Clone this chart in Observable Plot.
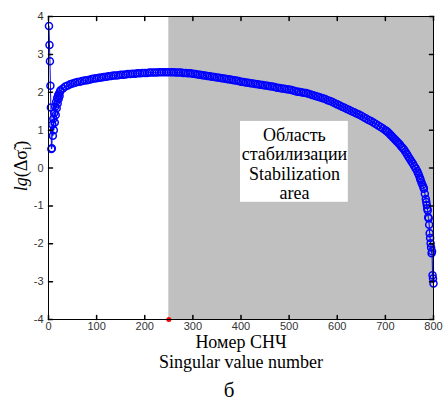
<!DOCTYPE html>
<html>
<head>
<meta charset="utf-8">
<script src="https://cdn.jsdelivr.net/npm/d3@7"></script>
<script src="https://cdn.jsdelivr.net/npm/@observablehq/plot@0.6"></script>
<style>
  html, body { margin: 0; padding: 0; background: #fff; }
</style>
</head>
<body>
<div id="chart"></div>
<script>
// ---- data ----
const startIdx  = [1,2,3,4,5,6,7,8,9,10,11,12,13,14,15,16,17,18,19,20,21,22,23,24];
const startVals = [3.75,3.25,2.82,2.17,1.60,0.50,0.52,1.15,0.85,1.30,1.00,1.45,1.20,1.62,1.40,1.75,1.58,1.85,1.70,1.92,1.82,1.97,1.90,2.02];

const midFirst = 25, midStep = 5;
const midVals = [
  2.05,2.10,2.15,2.18,2.21,2.23,2.25,2.27,2.28,2.30,
  2.31,2.32,2.33,2.35,2.36,2.37,2.38,2.39,2.40,2.41,
  2.42,2.43,2.44,2.44,2.45,2.46,2.46,2.47,2.48,2.48,
  2.49,2.49,2.50,2.50,2.51,2.51,2.51,2.52,2.52,2.52,
  2.52,2.53,2.53,2.53,2.53,2.53,2.53,2.53,2.52,2.52,
  2.52,2.51,2.51,2.50,2.50,2.49,2.48,2.47,2.46,2.45,
  2.44,2.43,2.42,2.41,2.40,2.39,2.38,2.37,2.36,2.35,
  2.34,2.33,2.32,2.31,2.30,2.28,2.27,2.26,2.25,2.24,
  2.23,2.22,2.21,2.20,2.19,2.18,2.17,2.16,2.15,2.14,
  2.12,2.11,2.10,2.09,2.08,2.07,2.06,2.04,2.02,2.01,
  2.00,1.99,1.98,1.96,1.94,1.92,1.90,1.88,1.86,1.84,
  1.82,1.79,1.77,1.74,1.71,1.68,1.65,1.62,1.59,1.56,
  1.53,1.50,1.47,1.44,1.41,1.38,1.34,1.31,1.27,1.24,
  1.20,1.16,1.12,1.08,1.04,1.00
];

const tailIdx  = [703,706,709,712,715,718,721,724,727,730,733,736,739,742,745,748,751,754,757,760,763,766,768,770,772,773,775,777,779,780,782,784,785,786,787,788,789,790,791,792,793,794,795,796,797,798,799,800];
const tailVals = [0.97,0.94,0.90,0.86,0.82,0.78,0.74,0.70,0.66,0.62,0.57,0.53,0.48,0.42,0.36,0.30,0.24,0.18,0.12,0.05,-0.01,-0.08,-0.14,-0.20,-0.27,-0.31,-0.38,-0.44,-0.50,-0.55,-0.68,-0.82,-0.90,-0.98,-1.07,-1.12,-1.30,-1.33,-1.50,-1.72,-1.85,-1.99,-2.10,-2.25,-2.20,-2.83,-2.92,-3.05];

const xTicks = [0,100,200,300,400,500,600,700,800];
const yTicks = [-4,-3,-2,-1,0,1,2,3,4];
const xDomain = [0, 800];
const yDomain = [-4, 4];

const stabStart = 250;          // start of stabilization area
const boxX = [399, 623];        // annotation box (data units)
const boxY = [-0.905, 1.23];
const boxCenter = [511, 0.11];
const boxText = "Область\nстабилизации\nStabilization\narea";

const xLabelRu = "Номер СНЧ";
const xLabelEn = "Singular value number";
const panelLabel = "б";

// ---- build table ----
const data = [];
startIdx.forEach((x, i) => data.push({x, y: startVals[i]}));
midVals.forEach((y, i) => data.push({x: midFirst + i * midStep, y}));
tailIdx.forEach((x, i) => data.push({x, y: tailVals[i]}));

const tickShape = {
  draw(context, l) { context.moveTo(0, 0); context.lineTo(0, -l); }
};

const serif = "Liberation Serif";
const sans = "Liberation Sans";

const plot = Plot.plot({
  width: 443,
  height: 405,
  marginTop: 16,
  marginBottom: 86,
  marginLeft: 48,
  marginRight: 10,
  x: {domain: xDomain},
  y: {domain: yDomain},
  style: {fontFamily: sans, fontSize: "11px", color: "#000", background: "#fff"},
  marks: [
    Plot.rect([{x1: stabStart, x2: xDomain[1], y1: yDomain[0], y2: yDomain[1]}],
      {x1: "x1", x2: "x2", y1: "y1", y2: "y2", fill: "#c0c0c0"}),
    Plot.rect([{x1: boxX[0], x2: boxX[1], y1: boxY[0], y2: boxY[1]}],
      {x1: "x1", x2: "x2", y1: "y1", y2: "y2", fill: "#fff"}),
    Plot.text([boxText], {x: boxCenter[0], y: boxCenter[1], text: d => d,
      fontFamily: serif, fontSize: 18, lineHeight: 1.07, fill: "#000"}),
    Plot.line(data, {x: "x", y: "y", stroke: "#0000ff", strokeWidth: 1}),
    Plot.dot(data, {x: "x", y: "y", r: 3.5, stroke: "#0000ff", fill: "none", strokeWidth: 1.5}),
    Plot.dot([{x: stabStart, y: yDomain[0]}], {x: "x", y: "y", r: 2.5, fill: "#ff0000", stroke: "none"}),
    Plot.frame({stroke: "#000", strokeWidth: 1}),
    // inward ticks on all four sides
    Plot.vector(xTicks, {x: d => d, y: yDomain[0], length: 4, rotate: 0, anchor: "start", shape: tickShape, stroke: "#000"}),
    Plot.vector(xTicks, {x: d => d, y: yDomain[1], length: 4, rotate: 180, anchor: "start", shape: tickShape, stroke: "#000"}),
    Plot.vector(yTicks, {x: xDomain[0], y: d => d, length: 4, rotate: 90, anchor: "start", shape: tickShape, stroke: "#000"}),
    Plot.vector(yTicks, {x: xDomain[1], y: d => d, length: 4, rotate: 270, anchor: "start", shape: tickShape, stroke: "#000"}),
    Plot.axisX({ticks: xTicks, tickSize: 0, tickPadding: 3, tickFormat: d => String(d), label: null, fill: "#333", fontSize: 11}),
    Plot.axisY({ticks: yTicks, tickSize: 0, tickPadding: 5, tickFormat: d => String(d), label: null, fill: "#333", fontSize: 11}),
    Plot.text([xLabelRu], {frameAnchor: "bottom", dy: 28, text: d => d, fontFamily: serif, fontSize: 18, fill: "#000"}),
    Plot.text([xLabelEn], {frameAnchor: "bottom", dy: 48, text: d => d, fontFamily: serif, fontSize: 18, fill: "#000"}),
    Plot.text([panelLabel], {frameAnchor: "bottom", dy: 77, dx: -12, text: d => d, fontFamily: serif, fontSize: 21, fill: "#000"})
  ]
});

// y-axis label with mixed styles
const svg = d3.select(plot);
const yl = svg.append("text")
  .attr("transform", "translate(27,166) rotate(-90)")
  .attr("text-anchor", "middle")
  .attr("font-family", serif)
  .attr("font-size", 18)
  .attr("fill", "#000");
yl.append("tspan").attr("font-style", "italic").text("lg");
yl.append("tspan").text("(Δ");
yl.append("tspan").text("σ\u0303");
yl.append("tspan").attr("font-size", 12).attr("dy", 4).text("i");
yl.append("tspan").attr("dy", -4).text(")");

document.getElementById("chart").appendChild(plot);
</script>
</body>
</html>
